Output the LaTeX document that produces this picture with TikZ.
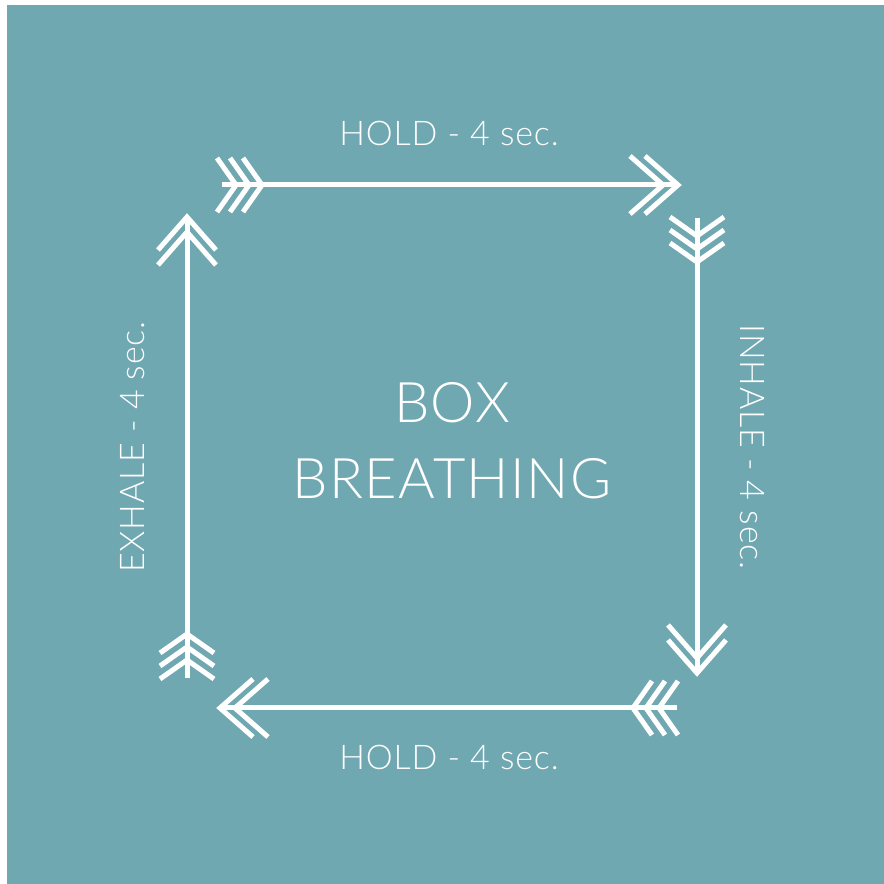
\documentclass[tikz,border=0pt]{standalone}
\usepackage{xcolor}
\usepackage{fontspec}
\setmainfont{Lato Light}[LetterSpace=2.5]
\usepackage{tikz}
\usetikzlibrary{positioning, calc}
\definecolor{calmteal}{HTML}{70A8B2}

\tikzset{
  arrowline/.style={draw=white, line width=5pt},
  headvee/.pic={\draw[arrowline, line join=miter] (-33,29) -- (0,0) -- (-33,-29);},
  feather/.pic={\draw[arrowline, line join=miter] (-19,27) -- (0,0) -- (-19,-27);},
  steplabel/.style={text=white, font=\fontsize{34}{40}\selectfont, inner sep=0pt},
}

\begin{document}
\begin{tikzpicture}[x=1pt, y=1pt]
  \useasboundingbox (0,0) rectangle (884,884);
  \fill[white] (0,0) rectangle (884,884);
  \fill[calmteal] (7,0) rectangle (884,879);

  % ends of the four sides
  \coordinate (topTail) at (222,699);
  \coordinate (topHead) at (678,699);
  \coordinate (rightTail) at (697,666);
  \coordinate (rightHead) at (697,211);
  \coordinate (bottomTail) at (677,176);
  \coordinate (bottomHead) at (220,176);
  \coordinate (leftTail) at (187,206);
  \coordinate (leftHead) at (187,667);

  % shafts
  \draw[arrowline] (topTail) -- (topHead);
  \draw[arrowline] (rightTail) -- (rightHead);
  \draw[arrowline] (bottomTail) -- (bottomHead);
  \draw[arrowline] (leftTail) -- (leftHead);

  % fletching
  \foreach \d in {0,13,26} {
    \pic at ($(topTail)+(14+\d,0)$) {feather};
    \pic[rotate=-90] at ($(rightTail)+(0,-18-\d)$) {feather};
    \pic[rotate=180] at ($(bottomTail)+(-18-\d,0)$) {feather};
    \pic[rotate=90] at ($(leftTail)+(0,18+\d)$) {feather};
  }

  % heads
  \foreach \d in {0,15} {
    \pic at ($(topHead)+(-\d,0)$) {headvee};
    \pic[rotate=-90] at ($(rightHead)+(0,\d)$) {headvee};
    \pic[rotate=180] at ($(bottomHead)+(\d,0)$) {headvee};
    \pic[rotate=90] at ($(leftHead)+(0,-\d)$) {headvee};
  }

  \node[steplabel] (holdtop) at (449,751) {HOLD - 4 sec.};
  \node[steplabel] (holdbottom) at (449,127) {HOLD - 4 sec.};
  \node[steplabel, rotate=90] (exhale) at (133,437) {EXHALE - 4 sec.};
  \node[steplabel, rotate=-90] (inhale) at (752,437) {INHALE - 4 sec.};
  \node[text=white, align=center, inner sep=0pt,
        font=\fontsize{56}{76}\selectfont] (title) at (452,443) {BOX\\BREATHING};
\end{tikzpicture}
\end{document}
